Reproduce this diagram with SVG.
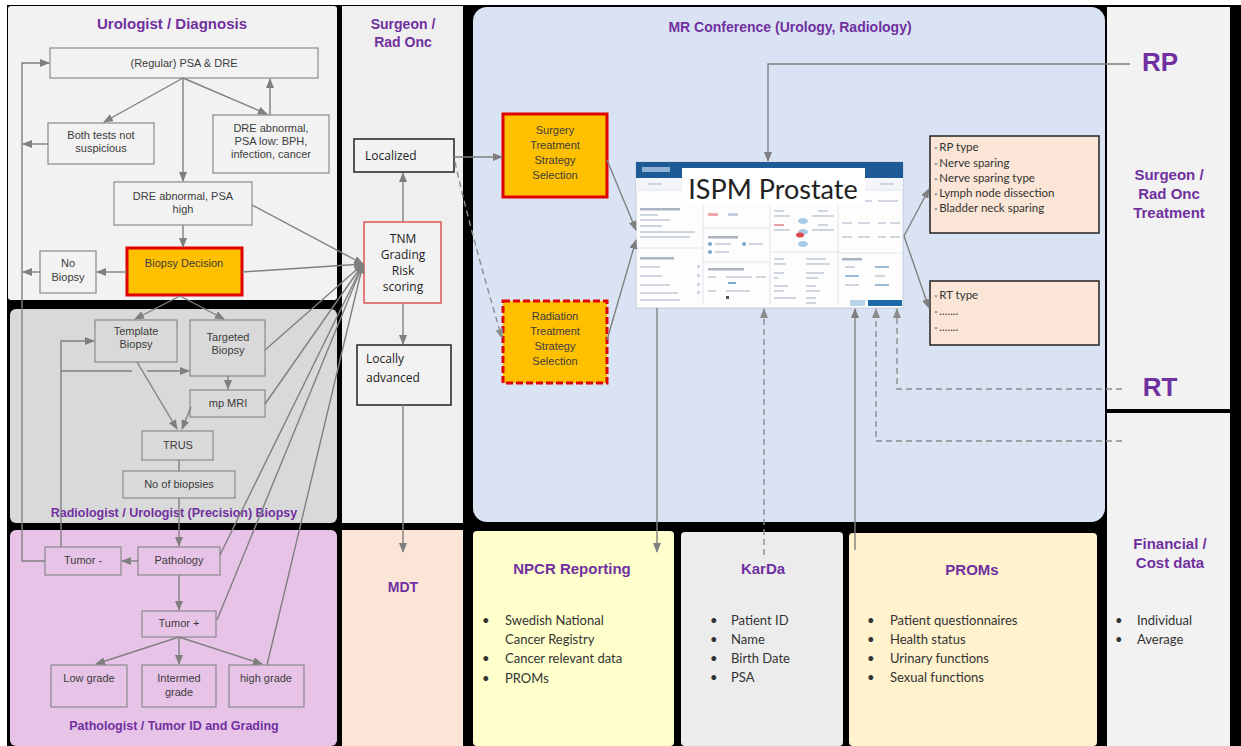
<svg xmlns="http://www.w3.org/2000/svg" width="1241" height="746" viewBox="0 0 1241 746">
<defs>
<marker id="ah" markerUnits="userSpaceOnUse" markerWidth="10" markerHeight="8" refX="9" refY="4" orient="auto"><path d="M0,0 L10,4 L0,8 z" fill="#7f7f7f"/></marker>
<marker id="ahl" markerUnits="userSpaceOnUse" markerWidth="10" markerHeight="8" refX="9" refY="4" orient="auto"><path d="M0,0 L10,4 L0,8 z" fill="#8c8c8c"/></marker>
<style>
.pt{font-family:"Liberation Sans",Arial,sans-serif;font-weight:bold;fill:#7030a0;text-anchor:middle}
.t{font-family:"Liberation Sans",Arial,sans-serif;font-size:11px;fill:#3c3c3c;text-anchor:middle}
.o{font-family:"Open Sans","Liberation Sans",sans-serif;font-size:12px;fill:#222}
.bl{font-family:Lato,"Open Sans",sans-serif;font-size:13px;fill:#333}
.sm{font-family:Lato,"Open Sans",sans-serif;font-size:11.5px;fill:#333}
.nu{fill:#f2f2f2;stroke:#8a8a8a;stroke-width:1.2}
.nbp{fill:#d9d9d9;stroke:#8a8a8a;stroke-width:1.2}
.npa{fill:#e8c3e8;stroke:#8a8a8a;stroke-width:1.2}
.nk{fill:#f2f2f2;stroke:#222;stroke-width:1.5}
.og{fill:#ffc000;stroke:#e00000;stroke-width:3}
.pe{fill:#fbe5d6;stroke:#222;stroke-width:1.5}
.c{fill:none;stroke:#808080;stroke-width:1.4}
.cm{marker-end:url(#ah)}
.d{stroke:#8c8c8c;stroke-dasharray:6 4;marker-end:url(#ahl)}
.ui{fill:#cfd6df}
.uil{stroke:#e1e5ea;stroke-width:1}
</style>
</defs>
<rect width="1241" height="746" fill="#fff"/>
<rect x="7" y="5" width="1234" height="741" fill="#000"/>
<g id="panels">
<rect x="8" y="6" width="329" height="294" rx="3" fill="#f2f2f2"/>
<rect x="10" y="309" width="327" height="214" rx="6" fill="#d9d9d9"/>
<rect x="10" y="530" width="327" height="216" rx="6" fill="#e8c3e8"/>
<rect x="342" y="6" width="121" height="517" fill="#efefef"/>
<rect x="342" y="530" width="121" height="216" fill="#fbe5d6"/>
<rect x="473" y="7" width="632" height="515" rx="14" fill="#dae3f3"/>
<rect x="473" y="531" width="201" height="215" rx="4" fill="#ffffcc"/>
<rect x="681" y="532" width="162" height="214" rx="4" fill="#ececec"/>
<rect x="849" y="533" width="248" height="213" rx="4" fill="#fff2cc"/>
<rect x="1107" y="7" width="123" height="402" fill="#f2f2f2"/>
<rect x="1107" y="413" width="123" height="333" fill="#f2f2f2"/>
</g>
<g id="titles">
<text class="pt" x="172" y="29" font-size="15">Urologist / Diagnosis</text>
<text class="pt" x="174" y="517" font-size="12.5">Radiologist / Urologist (Precision) Biopsy</text>
<text class="pt" x="174" y="730" font-size="12.5">Pathologist / Tumor ID and Grading</text>
<text class="pt" x="403" y="29" font-size="14">Surgeon /</text>
<text class="pt" x="403" y="47" font-size="14">Rad Onc</text>
<text class="pt" x="403" y="592" font-size="14">MDT</text>
<text class="pt" x="790" y="32" font-size="14">MR Conference (Urology, Radiology)</text>
<text class="pt" x="572" y="574" font-size="15">NPCR Reporting</text>
<text class="pt" x="763" y="574" font-size="15">KarDa</text>
<text class="pt" x="972" y="575" font-size="15">PROMs</text>
<text class="pt" x="1169" y="180" font-size="15">Surgeon /</text>
<text class="pt" x="1169" y="199" font-size="15">Rad Onc</text>
<text class="pt" x="1169" y="218" font-size="15">Treatment</text>
<text class="pt" x="1170" y="549" font-size="15">Financial /</text>
<text class="pt" x="1170" y="568" font-size="15">Cost data</text>
<text class="pt" x="1160" y="71" font-size="26">RP</text>
<text class="pt" x="1160" y="396" font-size="26">RT</text>
</g>
<g id="n-psa"><rect class="nu" x="50" y="48" width="268" height="30"/><text class="t" x="184" y="67" font-size="12">(Regular) PSA &amp; DRE</text></g>
<g id="n-both"><rect class="nu" x="48" y="123" width="106" height="41"/><text class="t" x="101" y="139">Both tests not</text><text class="t" x="101" y="152">suspicious</text></g>
<g id="n-dre-low"><rect class="nu" x="213" y="115" width="116" height="58"/><text class="t" x="271" y="132">DRE abnormal,</text><text class="t" x="271" y="145">PSA low: BPH,</text><text class="t" x="271" y="158">infection, cancer</text></g>
<g id="n-dre-high"><rect class="nu" x="114" y="182" width="138" height="43"/><text class="t" x="183" y="200">DRE abnormal, PSA</text><text class="t" x="183" y="213">high</text></g>
<g id="n-biopsy-decision"><rect class="og" x="127" y="248" width="115" height="47"/><text class="t" x="184" y="267" font-size="12.5" fill="#333">Biopsy Decision</text></g>
<g id="n-no-biopsy"><rect class="nu" x="40" y="251" width="56" height="42"/><text class="t" x="68" y="267">No</text><text class="t" x="68" y="281">Biopsy</text></g>
<g id="n-template"><rect class="nbp" x="95" y="320" width="82" height="42"/><text class="t" x="136" y="335">Template</text><text class="t" x="136" y="348">Biopsy</text></g>
<g id="n-targeted"><rect class="nbp" x="190" y="320" width="75" height="56"/><text class="t" x="228" y="341">Targeted</text><text class="t" x="228" y="354">Biopsy</text></g>
<g id="n-mpmri"><rect class="nbp" x="190" y="390" width="75" height="27"/><text class="t" x="228" y="407">mp MRI</text></g>
<g id="n-trus"><rect class="nbp" x="142" y="431" width="71" height="29"/><text class="t" x="178" y="449">TRUS</text></g>
<g id="n-no-biopsies"><rect class="nbp" x="123" y="471" width="112" height="27"/><text class="t" x="179" y="488">No of biopsies</text></g>
<g id="n-tumor-neg"><rect class="npa" x="45" y="547" width="76" height="28"/><text class="t" x="83" y="564">Tumor -</text></g>
<g id="n-pathology"><rect class="npa" x="138" y="547" width="82" height="28"/><text class="t" x="179" y="564">Pathology</text></g>
<g id="n-tumor-pos"><rect class="npa" x="142" y="611" width="74" height="26"/><text class="t" x="179" y="627">Tumor +</text></g>
<g id="n-low"><rect class="npa" x="51" y="665" width="76" height="42"/><text class="t" x="89" y="682">Low grade</text></g>
<g id="n-intermed"><rect class="npa" x="142" y="665" width="74" height="42"/><text class="t" x="179" y="682">Intermed</text><text class="t" x="179" y="696">grade</text></g>
<g id="n-high"><rect class="npa" x="229" y="665" width="75" height="42"/><text class="t" x="266" y="682">high grade</text></g>
<g id="n-localized"><rect class="nk" x="354" y="139" width="100" height="33"/><text class="o" x="365" y="160">Localized</text></g>
<g id="n-tnm"><rect x="364" y="222" width="77" height="81" fill="#f2f2f2" stroke="#e05555" stroke-width="1.5"/>
<text class="o" x="403" y="243" font-size="11" text-anchor="middle" fill="#333">TNM</text>
<text class="o" x="403" y="259" font-size="11" text-anchor="middle" fill="#333">Grading</text>
<text class="o" x="403" y="275" font-size="11" text-anchor="middle" fill="#333">Risk</text>
<text class="o" x="403" y="291" font-size="11" text-anchor="middle" fill="#333">scoring</text></g>
<g id="n-locally-advanced"><rect class="nk" x="357" y="345" width="94" height="60"/><text class="o" x="366" y="363">Locally</text><text class="o" x="366" y="382">advanced</text></g>
<g id="n-surgery"><rect class="og" x="503" y="114" width="104" height="83"/>
<text class="t" x="555" y="134" font-size="12.5" fill="#333">Surgery</text><text class="t" x="555" y="149" font-size="12.5" fill="#333">Treatment</text><text class="t" x="555" y="164" font-size="12.5" fill="#333">Strategy</text><text class="t" x="555" y="179" font-size="12.5" fill="#333">Selection</text></g>
<g id="n-radiation"><rect class="og" x="503" y="301" width="104" height="82" stroke-dasharray="7 3"/>
<text class="t" x="555" y="320" font-size="12.5" fill="#333">Radiation</text><text class="t" x="555" y="335" font-size="12.5" fill="#333">Treatment</text><text class="t" x="555" y="350" font-size="12.5" fill="#333">Strategy</text><text class="t" x="555" y="365" font-size="12.5" fill="#333">Selection</text></g>
<g id="n-ispm">
<rect x="636" y="162" width="267" height="146" fill="#fdfdfe" stroke="#b9c6d6" stroke-width="0.8"/>
<rect x="636" y="162" width="267" height="16" fill="#1e5a96"/>
<rect x="642" y="167" width="28" height="5" fill="#8fb0d3"/>
<rect x="636" y="178" width="267" height="12" fill="#f3f5f8"/>
<rect x="648" y="183" width="14" height="2" class="ui"/><rect x="880" y="183" width="14" height="2" class="ui"/>
<line class="uil" x1="636" y1="190" x2="903" y2="190"/>
<line class="uil" x1="703" y1="205" x2="703" y2="304"/>
<line class="uil" x1="770" y1="205" x2="770" y2="304"/>
<line class="uil" x1="838" y1="190" x2="838" y2="304"/>
<line class="uil" x1="636" y1="248" x2="703" y2="248"/>
<line class="uil" x1="703" y1="228" x2="770" y2="228"/>
<line class="uil" x1="703" y1="262" x2="770" y2="262"/>
<line class="uil" x1="770" y1="252" x2="838" y2="252"/>
<line class="uil" x1="838" y1="253" x2="903" y2="253"/>
<rect x="640" y="208" width="40" height="2.5" fill="#aab4c2"/>
<rect x="640" y="214" width="18" height="2" class="ui"/><rect x="640" y="219" width="30" height="2" class="ui"/>
<rect x="640" y="225" width="22" height="2" class="ui"/><rect x="640" y="231" width="55" height="2" class="ui"/><rect x="640" y="236" width="50" height="2" class="ui"/>
<rect x="640" y="257" width="34" height="2.5" fill="#aab4c2"/>
<rect x="640" y="266" width="20" height="2" class="ui"/><rect x="640" y="275" width="22" height="2" class="ui"/><rect x="640" y="284" width="30" height="2" class="ui"/><rect x="640" y="292" width="38" height="2" class="ui"/><rect x="640" y="299" width="40" height="2" class="ui"/>
<rect x="697" y="265" width="3" height="3" class="ui"/><rect x="697" y="274" width="3" height="3" class="ui"/><rect x="697" y="283" width="3" height="3" class="ui"/><rect x="697" y="291" width="3" height="3" class="ui"/>
<rect x="708" y="213" width="10" height="3" fill="#f0a8ae"/><rect x="728" y="213" width="10" height="3" fill="#c6cfe0"/>
<rect x="708" y="236" width="30" height="2.5" fill="#aab4c2"/>
<circle cx="710" cy="244" r="2" fill="#7ba6cf"/><rect x="715" y="243" width="16" height="2" class="ui"/>
<circle cx="744" cy="244" r="2" fill="#7ba6cf"/><rect x="749" y="243" width="14" height="2" class="ui"/>
<circle cx="710" cy="252" r="2" fill="#7ba6cf"/><rect x="715" y="251" width="14" height="2" class="ui"/>
<rect x="708" y="268" width="36" height="2.5" fill="#aab4c2"/>
<rect x="708" y="276" width="8" height="2" class="ui"/><rect x="726" y="276" width="26" height="2" class="ui"/><rect x="756" y="276" width="10" height="2" class="ui"/>
<rect x="728" y="282" width="8" height="2" fill="#7ba6cf"/>
<rect x="708" y="290" width="8" height="2" class="ui"/><rect x="726" y="290" width="24" height="2" class="ui"/><rect x="726" y="296" width="3" height="3" fill="#555"/>
<rect x="774" y="210" width="10" height="2" class="ui"/><rect x="774" y="215" width="16" height="2" class="ui"/>
<rect x="774" y="224" width="10" height="2" fill="#e8a0a6"/><rect x="774" y="229" width="16" height="2" class="ui"/>
<rect x="818" y="210" width="10" height="2" class="ui"/><rect x="812" y="215" width="22" height="2" class="ui"/>
<rect x="818" y="224" width="10" height="2" class="ui"/><rect x="812" y="229" width="22" height="2" class="ui"/>
<ellipse cx="803" cy="221" rx="5" ry="3" fill="#a9cbe6"/>
<ellipse cx="803" cy="232" rx="5" ry="3" fill="#a9cbe6"/>
<ellipse cx="800" cy="235" rx="4" ry="2.5" fill="#e0484f"/>
<ellipse cx="803" cy="244" rx="5" ry="3" fill="#a9cbe6"/>
<rect x="774" y="258" width="10" height="2" class="ui"/><rect x="774" y="263" width="12" height="2" class="ui"/><rect x="806" y="258" width="20" height="2" class="ui"/><rect x="806" y="263" width="24" height="2" class="ui"/>
<rect x="774" y="272" width="10" height="2" class="ui"/><rect x="774" y="277" width="4" height="2" class="ui"/><rect x="806" y="272" width="18" height="2" class="ui"/><rect x="806" y="277" width="12" height="2" class="ui"/>
<rect x="774" y="285" width="14" height="2" class="ui"/><rect x="774" y="290" width="10" height="2" class="ui"/><rect x="806" y="285" width="10" height="2" class="ui"/><rect x="806" y="290" width="14" height="2" class="ui"/>
<rect x="774" y="297" width="22" height="2" class="ui"/><rect x="806" y="297" width="10" height="2" class="ui"/><rect x="806" y="302" width="10" height="2" class="ui"/>
<rect x="842" y="200" width="12" height="2" class="ui"/><rect x="860" y="200" width="12" height="2" class="ui"/><rect x="878" y="200" width="20" height="2" class="ui"/>
<rect x="842" y="222" width="10" height="2" class="ui"/><rect x="858" y="222" width="12" height="2" class="ui"/><rect x="878" y="222" width="8" height="2" class="ui"/><rect x="890" y="222" width="10" height="2" class="ui"/>
<rect x="842" y="236" width="10" height="2" class="ui"/><rect x="858" y="236" width="12" height="2" class="ui"/><rect x="878" y="236" width="8" height="2" class="ui"/><rect x="890" y="236" width="10" height="2" class="ui"/>
<rect x="842" y="258" width="20" height="2.5" fill="#aab4c2"/>
<rect x="845" y="266" width="10" height="2" class="ui"/><rect x="875" y="266" width="14" height="2" fill="#9fb8d4"/>
<rect x="845" y="275" width="14" height="2" fill="#9fb8d4"/><rect x="875" y="275" width="10" height="2" class="ui"/>
<rect x="845" y="284" width="14" height="2" class="ui"/><rect x="875" y="284" width="14" height="2" fill="#9fb8d4"/>
<rect x="850" y="300" width="15" height="6" fill="#b7d3ea"/>
<rect x="868" y="300" width="34" height="6" fill="#1e6aa8"/>
<rect x="682" y="168" width="183" height="36" fill="#fff"/>
<text x="773" y="199" font-family="Lato,'Open Sans',sans-serif" font-size="27" text-anchor="middle" fill="#222">ISPM Prostate</text>
</g>
<g id="n-rp-details"><rect class="pe" x="930" y="136" width="169" height="97"/>
<text class="sm" x="934" y="151"><tspan fill="#999" font-size="8">▪ </tspan>RP type</text>
<text class="sm" x="934" y="167"><tspan fill="#999" font-size="8">▪ </tspan>Nerve sparing</text>
<text class="sm" x="934" y="182"><tspan fill="#999" font-size="8">▪ </tspan>Nerve sparing type</text>
<text class="sm" x="934" y="197"><tspan fill="#999" font-size="8">▪ </tspan>Lymph node dissection</text>
<text class="sm" x="934" y="212"><tspan fill="#999" font-size="8">▪ </tspan>Bladder neck sparing</text></g>
<g id="n-rt-details"><rect class="pe" x="930" y="281" width="169" height="64"/>
<text class="sm" x="934" y="299"><tspan fill="#999" font-size="8">▪ </tspan>RT type</text>
<text class="sm" x="934" y="315"><tspan fill="#999" font-size="8">▪ </tspan>.......</text>
<text class="sm" x="934" y="331"><tspan fill="#999" font-size="8">▪ </tspan>.......</text></g>
<g id="n-npcr-list" class="bl">
<text x="482" y="625">•</text><text x="505" y="625">Swedish National</text>
<text x="505" y="644">Cancer Registry</text>
<text x="482" y="663">•</text><text x="505" y="663">Cancer relevant data</text>
<text x="482" y="683">•</text><text x="505" y="683">PROMs</text></g>
<g id="n-karda-list" class="bl">
<text x="710" y="625">•</text><text x="731" y="625">Patient ID</text>
<text x="710" y="644">•</text><text x="731" y="644">Name</text>
<text x="710" y="663">•</text><text x="731" y="663">Birth Date</text>
<text x="710" y="682">•</text><text x="731" y="682">PSA</text></g>
<g id="n-proms-list" class="bl">
<text x="867" y="625">•</text><text x="890" y="625">Patient questionnaires</text>
<text x="867" y="644">•</text><text x="890" y="644">Health status</text>
<text x="867" y="663">•</text><text x="890" y="663">Urinary functions</text>
<text x="867" y="682">•</text><text x="890" y="682">Sexual functions</text></g>
<g id="n-financial-list" class="bl">
<text x="1115" y="625">•</text><text x="1137" y="625">Individual</text>
<text x="1115" y="644">•</text><text x="1137" y="644">Average</text></g>
<g id="connectors" class="c">
<path class="cm" d="M183,78 L104,122"/>
<path class="cm" d="M183,78 L183,181"/>
<path class="cm" d="M183,78 L267,114"/>
<path class="cm" d="M270,115 L270,79"/>
<path class="cm" d="M48,144 L23,144"/>
<path class="cm" d="M183,225 L183,247"/>
<path class="cm" d="M127,272 L97,272"/>
<path class="cm" d="M40,272 L23,272"/>
<path class="cm" d="M45,561 L22,561 L22,63 L49,63"/>
<path class="cm" d="M180,296 L135,319"/>
<path class="cm" d="M180,296 L224,319"/>
<path class="cm" d="M61,547 L61,341 L94,341"/>
<path class="cm" d="M61,371 L132,371 M147,371 L189,371"/>
<path class="cm" d="M137,362 L177,429"/>
<path class="cm" d="M228,376 L228,389"/>
<path class="cm" d="M191,407 L182,429"/>
<path d="M179,460 L179,471"/>
<path class="cm" d="M179,498 L179,546"/>
<path class="cm" d="M138,561 L122,561"/>
<path class="cm" d="M179,575 L179,610"/>
<path class="cm" d="M179,637 L96,664"/>
<path class="cm" d="M179,637 L179,664"/>
<path class="cm" d="M179,637 L262,664"/>
<path class="cm" d="M252,205 L363,264"/>
<path class="cm" d="M242,272 L363,264"/>
<path class="cm" d="M265,350 L363,264"/>
<path class="cm" d="M265,404 L363,264"/>
<path class="cm" d="M220,555 L363,264"/>
<path class="cm" d="M217,620 L363,264"/>
<path class="cm" d="M267,665 L363,264"/>
<path class="cm" d="M403,222 L403,173"/>
<path class="cm" d="M403,303 L403,344"/>
<path class="cm" d="M403,405 L403,552"/>
<path class="cm" d="M454,157 L502,157"/>
<path class="d" d="M455,162 Q470,230 502,338"/>
<path class="cm" d="M607,160 L636,230"/>
<path class="cm" d="M607,340 L636,240"/>
<path class="cm" d="M1130,64 L768,64 L768,161"/>
<path class="cm" d="M904,236 L929,189"/>
<path class="cm" d="M904,236 L929,308"/>
<path class="cm" d="M657,308 L657,552"/>
<path class="d" d="M764,555 L764,309"/>
<path class="cm" d="M855,550 L855,309"/>
<path class="d" d="M1122,441 L876,441 L876,309"/>
<path class="d" d="M1122,389 L897,389 L897,309"/>
</g>
</svg>
